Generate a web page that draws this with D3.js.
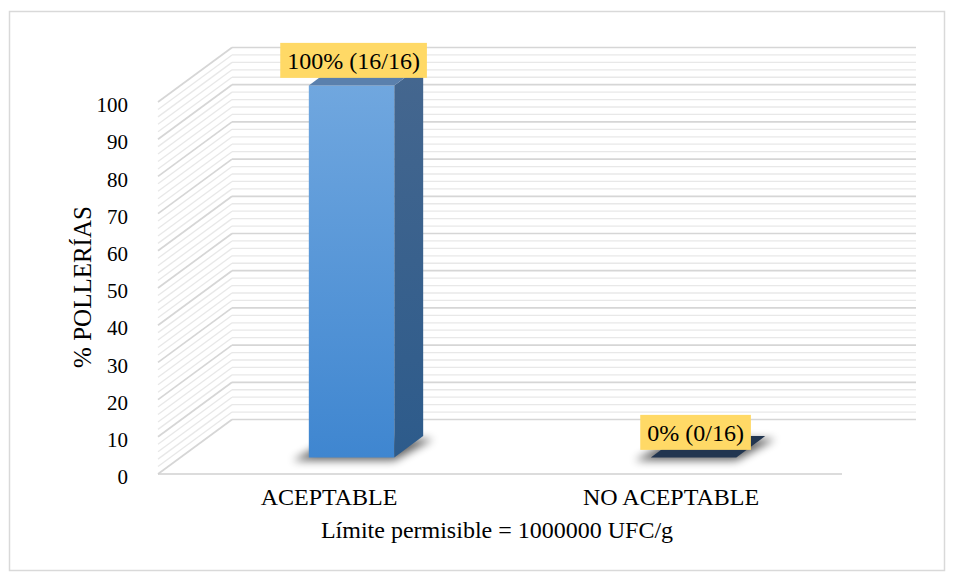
<!DOCTYPE html>
<html>
<head>
<meta charset="utf-8">
<script src="https://cdn.jsdelivr.net/npm/d3@7"></script>
<style>
  body { margin: 0; background: #fff; }
  text { font-family: "Liberation Serif", "Times New Roman", Times, serif; fill: #000; }
</style>
</head>
<body>
<div id="chart"></div>
<script>
// data
var categories = ["ACEPTABLE", "NO ACEPTABLE"]
var values = [100, 0]
var counts = ["16/16", "0/16"]
var y_ticks = [0, 10, 20, 30, 40, 50, 60, 70, 80, 90, 100]
var minor_ticks = d3.range(0, 101, 2)
var y_title = "% POLLERÍAS"
var x_title = "Límite permisible = 1000000 UFC/g"

var width = 954
var height = 580
var serif = "'Liberation Serif', 'Times New Roman', Times, serif"

// front plane of the 3d box, depth goes up-right
var front_left = 158
var front_right = 842
var depth_dx = 74
var depth_dy = 54.5
var bar_z0 = 0.305
var bar_z1 = 0.695

const svg = d3.select("#chart")
    .append("svg")
    .attr("width", width)
    .attr("height", height)

var defs = svg.append("defs")

var g_front = defs.append("linearGradient").attr("id", "front").attr("x1", 0).attr("y1", 0).attr("x2", 0).attr("y2", 1)
g_front.append("stop").attr("offset", "0%").attr("stop-color", "#70a7df")
g_front.append("stop").attr("offset", "100%").attr("stop-color", "#3f86d0")

var g_side = defs.append("linearGradient").attr("id", "side").attr("x1", 0).attr("y1", 0).attr("x2", 0).attr("y2", 1)
g_side.append("stop").attr("offset", "0%").attr("stop-color", "#45678f")
g_side.append("stop").attr("offset", "100%").attr("stop-color", "#2d5b8b")

defs.append("filter").attr("id", "blur")
    .attr("x", "-50%").attr("y", "-50%").attr("width", "200%").attr("height", "200%")
    .append("feGaussianBlur").attr("stdDeviation", 4)

// outer border
svg.append("rect")
    .attr("x", 9.5)
    .attr("y", 11.5)
    .attr("width", 935)
    .attr("height", 559)
    .attr("fill", "none")
    .attr("stroke", "#d9d9d9")
    .attr("stroke-width", 1.5)

var x = d3.scaleBand()
    .domain(categories)
    .range([front_left, front_right])

var y = d3.scaleLinear()
    .domain([0, 100])
    .range([474, 102])

function project(px, v, z) {
    return [px + z * depth_dx, y(v) - z * depth_dy]
}

// walls: minor lines first, majors on top
function wallLines(ticks, color, w) {
    var g = svg.append("g")
        .attr("stroke", color)
        .attr("stroke-width", w)
        .attr("fill", "none")
    g.selectAll("path.left")
        .data(ticks)
        .join("path")
        .attr("d", (d) => d3.line()([project(front_left, d, 0), project(front_left, d, 1)]))
    g.selectAll("path.back")
        .data(ticks)
        .join("path")
        .attr("class", "back")
        .attr("d", (d) => d3.line()([project(front_left, d, 1), project(front_right, d, 1)]))
}
wallLines(minor_ticks.filter((d) => d % 10 != 0), "#e8e8e8", 1.3)
wallLines(y_ticks, "#d6d6d6", 1.7)

// floor front edge
svg.append("path")
    .attr("d", d3.line()([project(front_left, 0, 0), project(front_right, 0, 0)]))
    .attr("stroke", "#d0d0d0")
    .attr("stroke-width", 1.7)

// y tick labels
var y_axis = d3.axisLeft(y).tickValues(y_ticks).tickSize(0).tickPadding(3)
var ya = svg.append("g")
    .attr("transform", "translate(131,3)")
    .call(y_axis)
ya.attr("font-family", serif)
ya.select(".domain").remove()
ya.selectAll("text")
    .style("font-family", serif)
    .style("font-size", "21px")
    .attr("fill", "#000")

// category labels
var x_axis = d3.axisBottom(x).tickSize(0).tickPadding(14)
var xa = svg.append("g")
    .attr("transform", "translate(0," + y(0) + ")")
    .call(x_axis)
xa.attr("font-family", serif)
xa.select(".domain").remove()
xa.selectAll("text")
    .style("font-family", serif)
    .style("font-size", "24px")
    .attr("fill", "#000")

// bars
var bar_w = x.bandwidth() * 0.25
var bars = categories.map((c, i) => {
    var cx = x(c) + x.bandwidth() / 2
    return { cat: c, value: values[i], count: counts[i], x0: cx - bar_w / 2, x1: cx + bar_w / 2 }
})

var poly = (pts) => "M" + pts.map((p) => p.join(",")).join("L") + "Z"

bars.forEach((b) => {
    var g = svg.append("g")
    // soft shadow under the footprint
    g.append("path")
        .attr("d", poly([
            project(b.x0 - 12, 0, bar_z0), project(b.x1 + 4, 0, bar_z0),
            project(b.x1 + 14, 0, bar_z1), project(b.x0 - 2, 0, bar_z1)]))
        .attr("transform", "translate(-4,3)")
        .attr("fill", "#000")
        .attr("opacity", 0.6)
        .attr("filter", "url(#blur)")

    if (b.value > 0) {
        g.append("path")
            .attr("d", poly([project(b.x0, 0, bar_z0), project(b.x1, 0, bar_z0), project(b.x1, b.value, bar_z0), project(b.x0, b.value, bar_z0)]))
            .attr("fill", "url(#front)")
        g.append("path")
            .attr("d", poly([project(b.x1, 0, bar_z0), project(b.x1, 0, bar_z1), project(b.x1, b.value, bar_z1), project(b.x1, b.value, bar_z0)]))
            .attr("fill", "url(#side)")
    }
    g.append("path")
        .attr("d", poly([project(b.x0, b.value, bar_z0), project(b.x1, b.value, bar_z0), project(b.x1, b.value, bar_z1), project(b.x0, b.value, bar_z1)]))
        .attr("fill", b.value > 0 ? "#5a80ad" : "#213550")
})

// data labels in yellow boxes
bars.forEach((b) => {
    var top = project(b.x0, b.value, bar_z0)
    var cx = (b.x0 + b.x1) / 2 + bar_z0 * depth_dx + 2
    var box_bottom = top[1] - 7.5
    var g = svg.append("g")
    var rect = g.append("rect")
    var t = g.append("text")
        .attr("x", cx)
        .attr("y", box_bottom - 9)
        .attr("text-anchor", "middle")
        .style("font-family", serif)
        .style("font-size", "24px")
        .text(b.value + "% (" + b.count + ")")
    var tw = t.node().getComputedTextLength()
    rect.attr("x", cx - tw / 2 - 7)
        .attr("y", box_bottom - 35)
        .attr("width", tw + 14)
        .attr("height", 35)
        .attr("fill", "#ffd966")
})

// axis titles
svg.append("text")
    .attr("transform", "translate(91,287) rotate(-90)")
    .attr("text-anchor", "middle")
    .style("font-family", serif)
    .style("font-size", "25px")
    .text(y_title)

svg.append("text")
    .attr("x", 497)
    .attr("y", 538)
    .attr("text-anchor", "middle")
    .style("font-family", serif)
    .style("font-size", "24px")
    .text(x_title)
</script>
</body>
</html>
